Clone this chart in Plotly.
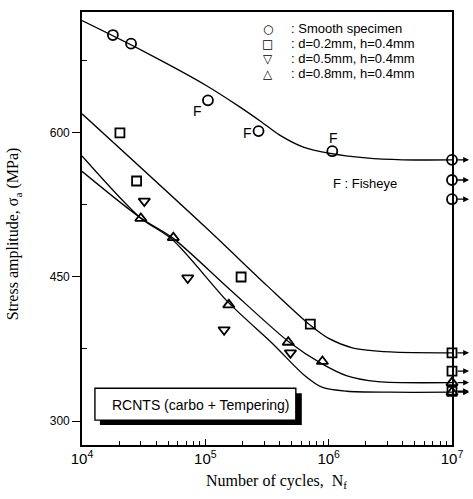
import math
import plotly.graph_objects as go

# ---- measured S-N data (RCNTS, carburized + tempered) ----
SMOOTH_N = [1.78e4, 2.5e4, 1.05e5, 2.7e5, 1.07e6]
SMOOTH_S = [702, 693, 634, 602, 581]
SMOOTH_RUNOUT_S = [572, 551, 531]

D02_N = [2.03e4, 2.77e4, 1.95e5, 7.1e5]
D02_S = [600, 550, 450, 401]
D02_RUNOUT_S = [371, 352, 331]

D05_N = [3.2e4, 7.2e4, 1.42e5, 4.9e5]
D05_S = [529, 449, 395, 371]

D08_N = [3.0e4, 5.5e4, 1.55e5, 4.7e5, 8.9e5]
D08_S = [511, 491, 421, 382, 362]
D08_RUNOUT_S = [340, 330]

RUNOUT_N = 1e7  # test stopped without failure

# ---- fitted S-N curves (knots, drawn as splines) ----
SMOOTH_FIT_N = [1e4, 3.16e4, 1e5, 1.86e5, 2.82e5, 3.98e5, 6.31e5, 1e6, 2e6, 3.98e6, 1e7]
SMOOTH_FIT_S = [717, 685, 650, 628, 612, 598, 585, 579, 574, 572, 572]

D02_FIT_N = [1e4, 1e5, 3.16e5, 6.9e5, 1e6, 1.58e6, 3.16e6, 1e7]
D02_FIT_S = [620, 502, 441, 401, 386, 376, 372, 371]

D05_FIT_N = [1e4, 2.95e4, 5.4e4, 1.55e5, 3.55e5, 6.31e5, 8.9e5, 1.41e6, 3.16e6, 1e7]
D05_FIT_S = [576, 512, 489, 423, 380, 348, 335, 331, 330, 330]

D08_FIT_N = [1e4, 2.95e4, 5.4e4, 1.58e5, 4.8e5, 8.7e5, 1.41e6, 2.5e6, 1e7]
D08_FIT_S = [560, 512, 491, 437, 382, 360, 347, 341, 340]

# ---- legend / label text ----
LEGEND_SYMBOLS = ["\u25cb", "\u25a1", "\u25bd", "\u25b3"]
LEGEND_TEXT = [": Smooth specimen", ": d=0.2mm, h=0.4mm",
               ": d=0.5mm, h=0.4mm", ": d=0.8mm, h=0.4mm"]
FISHEYE_IDX = [2, 3, 4]          # smooth specimens failed from a fisheye
FISHEYE_SHIFT = [(-10, -11), (-11, -2), (1, 13)]

SANS = "Liberation Sans, Arial, sans-serif"
SERIF = "Liberation Serif, Times New Roman, serif"

fig = go.Figure()

# fitted curves
for xs, ys in [(SMOOTH_FIT_N, SMOOTH_FIT_S), (D02_FIT_N, D02_FIT_S),
               (D05_FIT_N, D05_FIT_S), (D08_FIT_N, D08_FIT_S)]:
    fig.add_trace(go.Scatter(x=xs, y=ys, mode="lines",
                             line=dict(color="black", width=1.3, shape="spline", smoothing=0.8),
                             showlegend=False, hoverinfo="skip"))

# experimental points (with run-outs at 10^7)
series = [
    (SMOOTH_N, SMOOTH_S, SMOOTH_RUNOUT_S, "circle-open", 10),
    (D02_N, D02_S, D02_RUNOUT_S, "square-open", 9),
    (D05_N, D05_S, [], "triangle-down-open", 10),
    (D08_N, D08_S, D08_RUNOUT_S, "triangle-up-open", 10),
]
for xs, ys, run, sym, size in series:
    fig.add_trace(go.Scatter(
        x=list(xs) + [RUNOUT_N] * len(run), y=list(ys) + list(run),
        mode="markers", cliponaxis=False, showlegend=False,
        marker=dict(symbol=sym, size=size, color="black", line=dict(width=1.8, color="black")),
    ))

annotations = []

# run-out arrows
for s in sorted(set(SMOOTH_RUNOUT_S + D02_RUNOUT_S + D08_RUNOUT_S)):
    annotations.append(dict(x=1.046, xref="paper", y=s, yref="y", text="",
                            showarrow=True, ax=-13, ay=0, arrowhead=2,
                            arrowsize=0.9, arrowwidth=1.3, arrowcolor="black"))

# fisheye marks
for i, (dx, dy) in zip(FISHEYE_IDX, FISHEYE_SHIFT):
    annotations.append(dict(x=math.log10(SMOOTH_N[i]), y=SMOOTH_S[i],
                            xref="x", yref="y", text="F", showarrow=False,
                            xshift=dx, yshift=dy,
                            font=dict(family=SANS, size=14, color="black")))

# legend drawn as text rows
for k, (sym, txt) in enumerate(zip(LEGEND_SYMBOLS, LEGEND_TEXT)):
    ypx = 27 + 15 * k
    yp = (445 - ypx) / 435
    annotations.append(dict(x=(269 - 82) / 372, y=yp, xref="paper", yref="paper",
                            text="<b>" + sym + "</b>", showarrow=False,
                            xanchor="center", yanchor="middle",
                            font=dict(family="DejaVu Sans", size=12, color="black")))
    annotations.append(dict(x=(290 - 82) / 372, y=yp, xref="paper", yref="paper",
                            text=txt, showarrow=False, xanchor="left", yanchor="middle",
                            font=dict(family=SANS, size=13, color="black")))

annotations.append(dict(x=(367 - 82) / 372, y=(445 - 182) / 435, xref="paper", yref="paper",
                        text="F : Fisheye", showarrow=False, xanchor="center", yanchor="middle",
                        font=dict(family=SANS, size=13, color="black")))

# material label box
annotations.append(dict(x=(202 - 82) / 372, y=(445 - 405) / 435, xref="paper", yref="paper",
                        text="RCNTS (carbo + Tempering)", showarrow=False,
                        xanchor="center", yanchor="middle",
                        font=dict(family=SANS, size=14, color="black")))

# axis titles
annotations.append(dict(x=(278 - 82) / 372, y=(445 - 482) / 435, xref="paper", yref="paper",
                        text="Number of cycles,  N<sub>f</sub>", showarrow=False,
                        xanchor="center", yanchor="middle",
                        font=dict(family=SERIF, size=16, color="black")))
annotations.append(dict(x=(14 - 82) / 372, y=(445 - 233) / 435, xref="paper", yref="paper",
                        text="Stress amplitude, \u03c3<sub>a</sub> (MPa)", showarrow=False,
                        textangle=-90, xanchor="center", yanchor="middle",
                        font=dict(family=SERIF, size=16, color="black")))

shapes = [
    # drop shadow
    dict(type="rect", xref="paper", yref="paper",
         x0=(100 - 82) / 372, x1=(303 - 82) / 372, y0=(445 - 425) / 435, y1=(445 - 393) / 435,
         fillcolor="black", line=dict(width=0), layer="above"),
    dict(type="rect", xref="paper", yref="paper",
         x0=(95 - 82) / 372, x1=(297 - 82) / 372, y0=(445 - 420) / 435, y1=(445 - 388) / 435,
         fillcolor="white", line=dict(width=1.4, color="black"), layer="above"),
]

fig.update_layout(
    width=473, height=499,
    margin=dict(l=82, r=19, t=10, b=54),
    paper_bgcolor="white", plot_bgcolor="white",
    annotations=annotations, shapes=shapes,
    xaxis=dict(type="log", range=[4, 7], dtick=1, exponentformat="power",
               showline=True, linecolor="black", linewidth=1.6, mirror=True,
               ticks="inside", ticklen=6, tickwidth=1.3, tickcolor="black",
               minor=dict(ticks="inside", ticklen=4, tickwidth=1, tickcolor="black", dtick="D1"),
               showgrid=False, zeroline=False,
               tickfont=dict(family=SANS, size=12, color="black")),
    yaxis=dict(range=[275, 726], tickvals=[300, 450, 600],
               showline=True, linecolor="black", linewidth=1.6, mirror=True,
               ticks="outside", ticklen=8, tickwidth=1.3, tickcolor="black",
               minor=dict(tickvals=[375, 525, 675], ticks="inside", ticklen=5,
                          tickwidth=1, tickcolor="black"),
               showgrid=False, zeroline=False,
               tickfont=dict(family=SANS, size=12, color="black")),
)

fig.write_html("out.html")
